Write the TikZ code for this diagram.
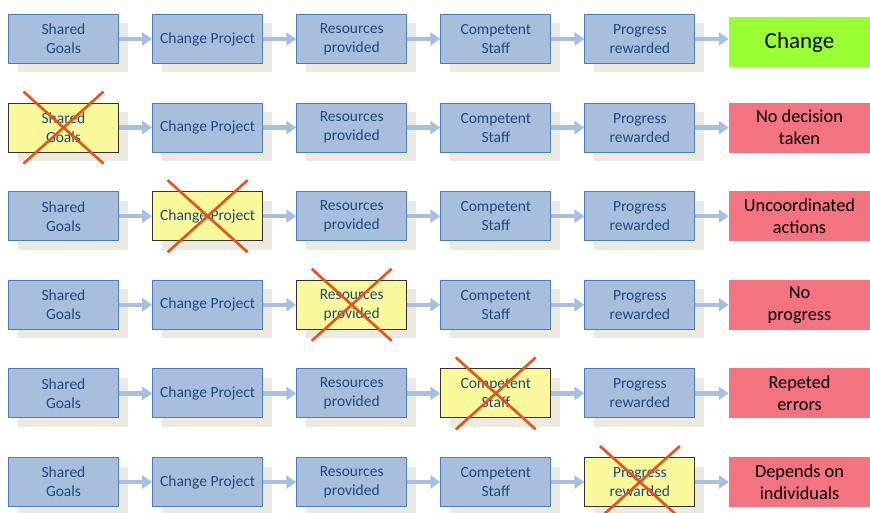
\documentclass[tikz,border=0pt]{standalone}
\usepackage{fontspec}
\setmainfont{Carlito}
\usetikzlibrary{arrows.meta,shadows,calc}

\definecolor{boxblue}{HTML}{A7BFDD}
\definecolor{boxedge}{HTML}{4A7EBB}
\definecolor{inkblue}{HTML}{1F497D}
\definecolor{shade}{HTML}{ECE9DF}
\definecolor{flowblue}{HTML}{A6C0DD}
\definecolor{missing}{HTML}{F9F99B}
\definecolor{crossred}{HTML}{E2541C}
\definecolor{goodgreen}{HTML}{99FF33}
\definecolor{badred}{HTML}{F37381}

\begin{document}
\begin{tikzpicture}[x=1pt,y=-1pt,
  stepbox/.style={rectangle, minimum width=110pt, minimum height=49pt,
    inner sep=0pt, align=center, fill=boxblue, draw=boxedge, line width=0.9pt,
    text=inkblue, font=\fontsize{15.5}{19}\selectfont,
    general shadow={fill=shade, shadow xshift=9pt, shadow yshift=-9pt}},
  dropped/.style={fill=missing, draw=black!80},
  outcome/.style={rectangle, minimum width=141pt, minimum height=50pt,
    inner sep=0pt, align=center, text=black, font=\fontsize{18.3}{22}\selectfont},
  flow/.style={draw=flowblue, line width=4.5pt, -{Triangle[length=10pt,width=13pt]}},
  cross/.style={draw=crossred, line width=2.6pt}]

\useasboundingbox (0,0) rectangle (870,513);

% six chains of five steps; in chain r>1 step r-1 is missing
\foreach \r in {1,...,6} {
  \pgfmathsetmacro\yy{39+88.6*(\r-1)}
  \foreach \lbl [count=\c] in {Shared\\Goals, Change Project, Resources\\provided, Competent\\Staff, Progress\\rewarded} {
    \pgfmathsetmacro\xx{63.5+144.1*(\c-1)}
    \pgfmathtruncatemacro\gone{(\r-1)==\c}
    \ifnum\gone=1
      \node[stepbox, dropped] (b\r-\c) at (\xx,\yy) {\lbl};
    \else
      \node[stepbox] (b\r-\c) at (\xx,\yy) {\lbl};
    \fi
  }
}

% outcomes
\node[outcome, fill=goodgreen, font=\fontsize{23}{26}\selectfont] (o1) at (799.5,42) {Change};
\node[outcome, fill=badred] (o2) at (799.5,127.6) {No decision\\taken};
\node[outcome, fill=badred] (o3) at (799.5,216.2) {Uncoordinated\\actions};
\node[outcome, fill=badred] (o4) at (799.5,304.8) {No\\progress};
\node[outcome, fill=badred] (o5) at (799.5,393.4) {Repeted\\errors};
\node[outcome, fill=badred] (o6) at (799.5,482) {Depends on\\individuals};

% connectors
\foreach \r in {1,...,6} {
  \foreach \c [evaluate=\c as \n using int(\c+1)] in {1,...,4} {
    \draw[flow] (b\r-\c) -- (b\r-\n);
  }
  \draw[flow] (b\r-5.east) -- (b\r-5.east -| o\r.west);
}

% crosses over the missing steps
\foreach \r in {2,...,6} {
  \pgfmathtruncatemacro\c{\r-1}
  \draw[cross] ($(b\r-\c.center)+(-40,-36)$) -- ($(b\r-\c.center)+(40,36)$);
  \draw[cross] ($(b\r-\c.center)+(40,-36)$) -- ($(b\r-\c.center)+(-40,36)$);
}
\end{tikzpicture}
\end{document}
